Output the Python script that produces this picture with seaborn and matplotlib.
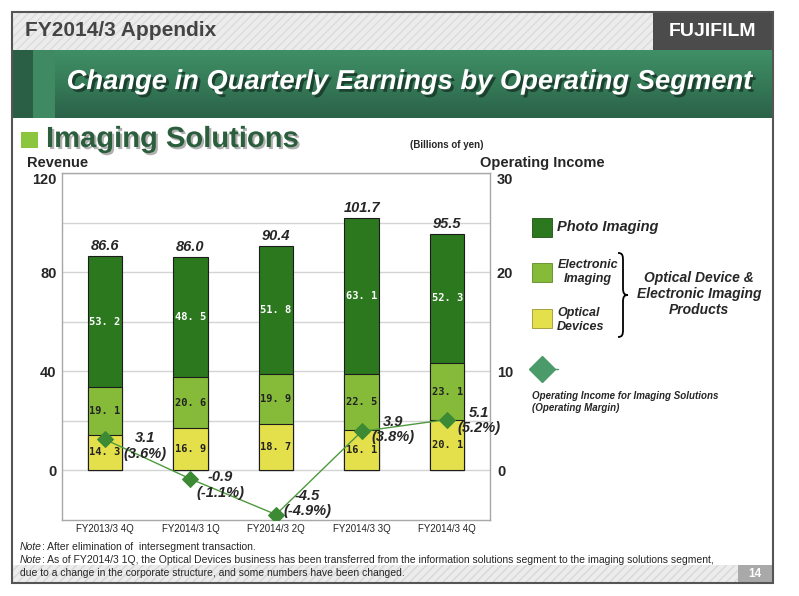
import numpy as np
import pandas as pd
import seaborn as sns
import matplotlib.pyplot as plt
import matplotlib.patheffects as pe
from matplotlib.patches import Rectangle, PathPatch
from matplotlib.path import Path
from matplotlib.colors import LinearSegmentedColormap
from matplotlib import font_manager as fm

# data (billions of yen)
quarters = ["FY2013/3 4Q", "FY2014/3 1Q", "FY2014/3 2Q", "FY2014/3 3Q", "FY2014/3 4Q"]
photo = [53.2, 48.5, 51.8, 63.1, 52.3]
electronic = [19.1, 20.6, 19.9, 22.5, 23.1]
optical = [14.3, 16.9, 18.7, 16.1, 20.1]
totals = [86.6, 86.0, 90.4, 101.7, 95.5]
op_income = [3.1, -0.9, -4.5, 3.9, 5.1]
op_margin = [3.6, -1.1, -4.9, 3.8, 5.2]

# where the income labels sit relative to their point (pixels)
label_offsets = [(40, -7), (30, -6), (31, 11), (31, 2), (32, -1)]

C_PHOTO = "#2b781f"
C_ELEC = "#86bb3a"
C_OPT = "#e4e04c"
C_LINE = "#4e9a3e"
C_DOT = "#3c8a34"

names = {f.name for f in fm.fontManager.ttflist}
NARROW = "Liberation Sans Narrow" if "Liberation Sans Narrow" in names else "Liberation Sans"
SANS = "Liberation Sans"

sns.set_theme(style="white")
plt.rcParams["font.family"] = [SANS, "DejaVu Sans"]
plt.rcParams["hatch.linewidth"] = 1.0

W, H = 799, 596
fig = plt.figure(figsize=(W / 100, H / 100), dpi=100)
fig.patch.set_facecolor("white")


def box(x0, y0, x1, y1):
    return [x0 / W, 1 - y1 / H, (x1 - x0) / W, (y1 - y0) / H]


# slide decoration, drawn in pixel coordinates
bg = fig.add_axes([0, 0, 1, 1])
bg.axis("off")

bg.add_patch(Rectangle((12, 12), 761, 38, facecolor="#ececec", edgecolor="#dcdcdc", hatch="////", lw=0))
bg.add_patch(Rectangle((653, 12), 120, 38, facecolor="#4b4b4b", lw=0))
bg.text(25, 31, "FY2014/3 Appendix", fontsize=15, weight="bold", color="#444444", va="center")
bg.text(713, 31, "FUJIFILM", family=NARROW, fontsize=14, weight="bold", color="white",
        va="center", ha="center")

grad = np.linspace(0, 1, 60).reshape(-1, 1)
cm = LinearSegmentedColormap.from_list("band", ["#3f8f66", "#357a57", "#2b6249"])
bg.imshow(grad, extent=(12, 773, 118, 50), aspect="auto", cmap=cm, zorder=1)
bg.add_patch(Rectangle((12, 50), 21, 68, facecolor="#2a5f46", lw=0, zorder=2))
bg.add_patch(Rectangle((33, 50), 22, 68, facecolor="#3f8a63", lw=0, zorder=2))
bg.text(410, 82, "Change in Quarterly Earnings by Operating Segment", fontsize=19.7, weight="bold",
        style="italic", color="white", ha="center", va="center", zorder=3,
        path_effects=[pe.withSimplePatchShadow(offset=(2, -2), shadow_rgbFace="#1b3b2b", alpha=0.9)])

bg.add_patch(Rectangle((21, 132), 17, 16, facecolor="#8cc63f", lw=0))
bg.text(46, 139, "Imaging Solutions", family=NARROW, fontsize=25.5 if NARROW != SANS else 21,
        weight="bold", color="#2b5e3c", va="center",
        path_effects=[pe.withSimplePatchShadow(offset=(1.5, -1.5), shadow_rgbFace="#b0b0b0", alpha=1)])
bg.text(410, 145, "(Billions of yen)", family=NARROW, fontsize=7, weight="bold", va="center")
bg.text(27, 163, "Revenue", family=NARROW, fontsize=10.5, weight="bold", va="center")
bg.text(480, 163, "Operating Income", family=NARROW, fontsize=10.5, weight="bold", va="center")

# legend
bg.add_patch(Rectangle((532, 218), 20, 19, facecolor=C_PHOTO, edgecolor="#1f4f18", lw=0.6))
bg.add_patch(Rectangle((532, 263), 20, 19, facecolor=C_ELEC, edgecolor="#5a8a28", lw=0.6))
bg.add_patch(Rectangle((532, 309), 20, 19, facecolor=C_OPT, edgecolor="#9a9630", lw=0.6))
bg.text(557, 227, "Photo Imaging", fontsize=10.5, weight="bold", style="italic", va="center")
bg.text(588, 272, "Electronic\nImaging", fontsize=9, weight="bold", style="italic", va="center",
        ha="center", multialignment="center", linespacing=1.15)
bg.text(557, 320, "Optical\nDevices", fontsize=9, weight="bold", style="italic", va="center",
        linespacing=1.15)
brace = Path([(618, 253), (623, 253), (623, 256), (623, 262), (623, 288),
              (623, 293), (624, 295), (628, 295),
              (624, 295), (623, 297), (623, 302), (623, 330),
              (623, 335), (622, 337), (618, 337)],
             [Path.MOVETO, Path.CURVE4, Path.CURVE4, Path.CURVE4, Path.LINETO,
              Path.CURVE4, Path.CURVE4, Path.CURVE4,
              Path.CURVE4, Path.CURVE4, Path.CURVE4, Path.LINETO,
              Path.CURVE4, Path.CURVE4, Path.CURVE4])
bg.add_patch(PathPatch(brace, facecolor="none", edgecolor="black", lw=1.3))
bg.text(699, 294, "Optical Device &\nElectronic Imaging\nProducts", fontsize=10, weight="bold",
        style="italic", ha="center", va="center", multialignment="center", linespacing=1.2)
bg.plot([542, 558], [369, 369], color="#4a9a6a", lw=1)
bg.plot([542], [369], marker="D", markersize=13, color="#4a9a6a", lw=0)
bg.text(532, 402, "Operating Income for Imaging Solutions\n(Operating Margin)", fontsize=7,
        weight="bold", style="italic", va="center", linespacing=1.15)

# notes and footer
bg.add_patch(Rectangle((12, 565), 726, 18, facecolor="#ececec", edgecolor="#d8d8d8", hatch="////",
                       lw=0, zorder=0))
bg.add_patch(Rectangle((738, 565), 35, 18, facecolor="#a9a9a9", lw=0))
bg.text(755, 574, "14", fontsize=8.5, weight="bold", color="white", ha="center", va="center")
n1 = bg.text(20, 547, "Note", family=NARROW, fontsize=7.5, style="italic", va="center")
bg.annotate(": After elimination of  intersegment transaction.", xy=(1, 0.5), xycoords=n1,
            family=NARROW, fontsize=7.5, va="center")
n2 = bg.text(20, 560, "Note", family=NARROW, fontsize=7.5, style="italic", va="center")
bg.annotate(": As of FY2014/3 1Q, the Optical Devices business has been transferred from the "
            "information solutions segment to the imaging solutions segment,",
            xy=(1, 0.5), xycoords=n2, family=NARROW, fontsize=7.5, va="center")
bg.text(20, 573, "due to a change in the corporate structure, and some numbers have been changed.",
        family=NARROW, fontsize=7.5, va="center")
bg.add_patch(Rectangle((12, 12), 761, 571, facecolor="none", edgecolor="#555555", lw=1.5, zorder=5))
bg.set_xlim(0, W)
bg.set_ylim(H, 0)

# chart
ax = fig.add_axes(box(62, 173, 490, 520))
df = pd.DataFrame({"quarter": quarters, "photo": photo, "electronic": electronic, "optical": optical})
df["mid"] = df["electronic"] + df["optical"]
df["top"] = df["mid"] + df["photo"]
for col, colr in [("top", C_PHOTO), ("mid", C_ELEC), ("optical", C_OPT)]:
    sns.barplot(data=df, x="quarter", y=col, color=colr, saturation=1, width=0.4,
                edgecolor="#1c1c1c", linewidth=0.8, ax=ax, zorder=2)

ax.set_xlim(-0.5, 4.5)
ax.set_ylim(-20.2, 120)
ax.set_yticks([0, 20, 40, 60, 80, 100, 120])
ax.set_yticklabels(["0", "", "40", "", "80", "", "120"], family=NARROW, fontsize=10.5, weight="bold")
ax.set_xticks(range(len(quarters)))
ax.set_xticklabels(quarters, family=NARROW, fontsize=7, color="#222222")
ax.set_xlabel("")
ax.set_ylabel("")
ax.tick_params(length=0)
ax.tick_params(axis="y", pad=4)
ax.tick_params(axis="x", pad=3)
ax.set_axisbelow(True)
ax.yaxis.grid(True, color="#d4d4d4", lw=1)
for s in ax.spines.values():
    s.set_color("#a8a8a8")
    s.set_linewidth(1)
for lbl in ax.get_yticklabels():
    if lbl.get_text() == "120":
        lbl.set_verticalalignment("top")

for i in range(len(quarters)):
    ax.text(i, optical[i] / 2, f"{optical[i]:.1f}".replace(".", ". "), family="DejaVu Sans Mono",
            fontsize=7.5, weight="bold", color="#222222", ha="center", va="center", zorder=4)
    ax.text(i, optical[i] + electronic[i] / 2, f"{electronic[i]:.1f}".replace(".", ". "),
            family="DejaVu Sans Mono", fontsize=7.5, weight="bold", color="#222222",
            ha="center", va="center", zorder=4)
    ax.text(i, optical[i] + electronic[i] + photo[i] / 2, f"{photo[i]:.1f}".replace(".", ". "),
            family="DejaVu Sans Mono", fontsize=7.5, weight="bold", color="white",
            ha="center", va="center", zorder=4)
    ax.annotate(f"{totals[i]:.1f}", (i, totals[i]), xytext=(0, 3), textcoords="offset pixels",
                ha="center", va="bottom", fontsize=10.5, weight="bold", style="italic")

ax2 = ax.twinx()
sns.lineplot(x=list(range(len(quarters))), y=op_income, ax=ax2, color=C_LINE, lw=1,
             marker="D", markersize=8, markerfacecolor=C_DOT, markeredgecolor=C_DOT, zorder=5)
ax2.set_ylim(-5.05, 30)
ax2.set_yticks([0, 10, 20, 30])
ax2.set_yticklabels(["0", "10", "20", "30"], family=NARROW, fontsize=10.5, weight="bold")
ax2.tick_params(length=0, pad=5)
ax2.set_ylabel("")
for s in ax2.spines.values():
    s.set_visible(False)
for lbl in ax2.get_yticklabels():
    if lbl.get_text() == "30":
        lbl.set_verticalalignment("top")
for i in range(len(quarters)):
    ax2.annotate(f"{op_income[i]:.1f}\n({op_margin[i]:.1f}%)", (i, op_income[i]),
                 xytext=label_offsets[i], textcoords="offset pixels", ha="center", va="center",
                 multialignment="center", fontsize=10.5, weight="bold", style="italic",
                 linespacing=1.15, zorder=6)

fig.savefig("out.png", dpi=100)
